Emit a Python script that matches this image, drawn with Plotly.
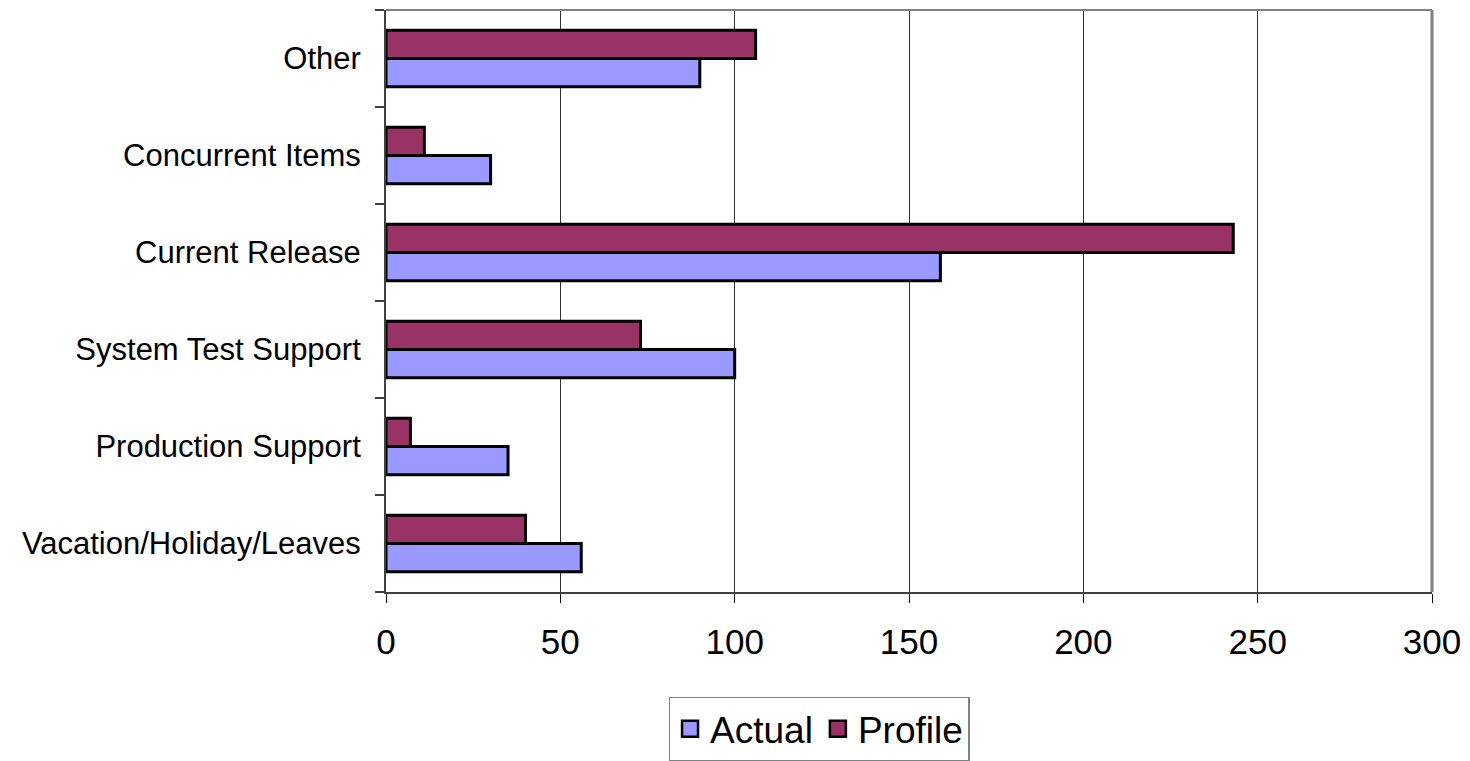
import plotly.graph_objects as go

categories = ["Vacation/Holiday/Leaves", "Production Support", "System Test Support",
              "Current Release", "Concurrent Items", "Other"]
actual = [56, 35, 100, 159, 30, 90]
profile = [40, 7, 73, 243, 11, 106]
x_ticks = [0, 50, 100, 150, 200, 250, 300]

actual_color = "#9999FF"
profile_color = "#993366"
FONT = "Liberation Sans, Arial, sans-serif"

fig = go.Figure()
fig.add_trace(go.Bar(y=categories, x=actual, orientation="h", name="Actual",
                     marker=dict(color=actual_color, line=dict(color="black", width=3)),
                     showlegend=False))
fig.add_trace(go.Bar(y=categories, x=profile, orientation="h", name="Profile",
                     marker=dict(color=profile_color, line=dict(color="black", width=3)),
                     showlegend=False))
# legend entries with larger square swatches
for nm, col in [("Actual", actual_color), ("Profile", profile_color)]:
    fig.add_trace(go.Scatter(x=[None], y=[None], mode="markers", name=nm,
                             marker=dict(symbol="square", size=22, color=col,
                                         line=dict(color="black", width=2.5))))

fig.update_layout(
    width=1470, height=761,
    margin=dict(l=386, r=38, t=10, b=169, autoexpand=False),
    paper_bgcolor="white", plot_bgcolor="white",
    barmode="group", bargap=0.42, bargroupgap=0,
    font=dict(family=FONT, color="black"),
    legend=dict(orientation="h", x=0.414, xanchor="center", y=-0.18, yanchor="top",
                bordercolor="#808080", borderwidth=1.5, font=dict(size=37, family=FONT),
                itemwidth=30, tracegroupgap=0, bgcolor="white"),
    xaxis=dict(range=[0, 300], tickvals=x_ticks, ticktext=[str(v) for v in x_ticks],
               showgrid=True, gridcolor="#303030", gridwidth=1,
               showline=True, linecolor="#404040", linewidth=2,
               ticks="outside", ticklen=9, tickcolor="black", tickwidth=1,
               tickfont=dict(size=35, family=FONT), ticklabelstandoff=9,
               zeroline=False, fixedrange=True),
    yaxis=dict(categoryorder="array", categoryarray=categories,
               showline=True, linecolor="#404040", linewidth=2,
               ticks="outside", tickson="boundaries", ticklen=9, tickcolor="#404040", tickwidth=1.5,
               tickfont=dict(size=31, family=FONT), ticklabelstandoff=17,
               showgrid=False, zeroline=False, fixedrange=True),
    shapes=[
        dict(type="line", xref="paper", yref="paper", x0=0, x1=1, y0=1, y1=1,
             line=dict(color="#808080", width=2)),
        dict(type="line", xref="paper", yref="paper", x0=1, x1=1, y0=0, y1=1,
             line=dict(color="#808080", width=3)),
    ],
)

fig.write_html("out.html")
